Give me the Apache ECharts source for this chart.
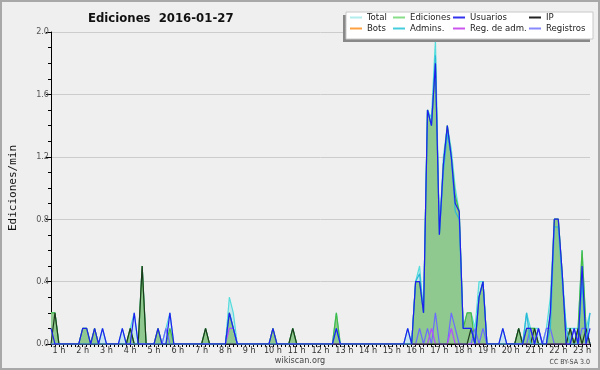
<!DOCTYPE html>
<html>
<head>
<meta charset="utf-8">
<script src="https://cdn.jsdelivr.net/npm/echarts@6/dist/echarts.min.js"></script>
<style>html,body{margin:0;padding:0;background:#efefef}#c{width:600px;height:370px}</style>
</head>
<body>
<div id="c"></div>
<script>
// 10-minute buckets starting at 0:40, ending at 23:20 (137 points)
const startMinutes = 40;
const stepMinutes = 10;
const pointCount = 137;
const categories = [];
for (let k = 0; k < pointCount; k++) {
  const m = startMinutes + k * stepMinutes;
  categories.push(Math.floor(m / 60) + ':' + String(m % 60).padStart(2, '0'));
}

const total = [
  0.2,0.2,0,0,0,0,0,0,0.1,0.1,
  0,0.1,0,0.1,0,0,0,0,0.1,0,
  0.1,0.2,0,0.5,0,0,0,0.1,0,0.1,
  0.2,0,0,0,0,0,0,0,0,0.1,
  0,0,0,0,0,0.3,0.2,0,0,0,
  0,0,0,0,0,0,0.1,0,0,0,
  0,0.1,0,0,0,0,0,0,0,0,
  0,0,0.2,0,0,0,0,0,0,0,
  0,0,0,0,0,0,0,0,0,0,
  0.1,0,0.4,0.5,0.2,1.5,1.45,1.95,0.7,1.2,
  1.4,1.25,1.0,0.85,0.1,0.2,0.2,0.1,0.4,0.4,
  0,0,0,0,0.1,0,0,0,0.1,0,
  0.2,0.1,0.1,0.1,0,0.1,0.3,0.8,0.8,0.45,
  0.1,0.1,0.1,0.1,0.6,0.1,0.2
];
const edits = [
  0.2,0.2,0,0,0,0,0,0,0.1,0.1,
  0,0.1,0,0,0,0,0,0,0,0,
  0.1,0,0,0.5,0,0,0,0.1,0,0,
  0.1,0,0,0,0,0,0,0,0,0.1,
  0,0,0,0,0,0.2,0.1,0,0,0,
  0,0,0,0,0,0,0.1,0,0,0,
  0,0.1,0,0,0,0,0,0,0,0,
  0,0,0.2,0,0,0,0,0,0,0,
  0,0,0,0,0,0,0,0,0,0,
  0,0,0.4,0.4,0.2,1.5,1.4,1.8,0.7,1.15,
  1.4,1.2,0.95,0.85,0.1,0.2,0.2,0,0.3,0.4,
  0,0,0,0,0,0,0,0,0.1,0,
  0.1,0.1,0.1,0,0,0,0.2,0.8,0.8,0.45,
  0,0.1,0,0.1,0.6,0.1,0
];
const users = [
  0.1,0,0,0,0,0,0,0,0.1,0.1,
  0,0.1,0,0.1,0,0,0,0,0.1,0,
  0,0.2,0,0,0,0,0,0.1,0,0,
  0.2,0,0,0,0,0,0,0,0,0,
  0,0,0,0,0,0.2,0.1,0,0,0,
  0,0,0,0,0,0,0.1,0,0,0,
  0,0,0,0,0,0,0,0,0,0,
  0,0,0.1,0,0,0,0,0,0,0,
  0,0,0,0,0,0,0,0,0,0,
  0.1,0,0.4,0.4,0.2,1.5,1.4,1.8,0.7,1.15,
  1.4,1.2,0.9,0.85,0.1,0.1,0.1,0,0.3,0.4,
  0,0,0,0,0.1,0,0,0,0,0,
  0.1,0.1,0,0.1,0,0,0.2,0.8,0.8,0.45,
  0,0,0.1,0,0.5,0,0.1
];
const admins = [
  0,0,0,0,0,0,0,0,0,0,
  0,0,0,0,0,0,0,0,0,0,
  0,0,0,0,0,0,0,0,0,0,
  0,0,0,0,0,0,0,0,0,0,
  0,0,0,0,0,0.2,0.1,0,0,0,
  0,0,0,0,0,0,0,0,0,0,
  0,0,0,0,0,0,0,0,0,0,
  0,0,0.1,0,0,0,0,0,0,0,
  0,0,0,0,0,0,0,0,0,0,
  0,0,0.4,0.45,0.2,1.5,1.4,1.85,0.7,1.1,
  1.35,1.2,0.85,0.8,0.1,0.1,0.1,0,0.3,0.4,
  0,0,0,0,0,0,0,0,0,0,
  0.2,0,0,0,0,0,0.1,0.75,0.75,0.4,
  0.1,0,0,0,0.4,0,0.2
];
const ip = [
  0,0.2,0,0,0,0,0,0,0,0,
  0,0,0,0,0,0,0,0,0,0,
  0.1,0,0,0.5,0,0,0,0,0,0,
  0,0,0,0,0,0,0,0,0,0.1,
  0,0,0,0,0,0,0,0,0,0,
  0,0,0,0,0,0,0,0,0,0,
  0,0.1,0,0,0,0,0,0,0,0,
  0,0,0,0,0,0,0,0,0,0,
  0,0,0,0,0,0,0,0,0,0,
  0,0,0,0,0,0,0,0,0,0,
  0,0,0,0,0,0,0.1,0,0,0,
  0,0,0,0,0,0,0,0,0.1,0,
  0,0,0.1,0,0,0,0,0,0,0,
  0,0.1,0,0.1,0,0.1,0
];
const logs = [
  0,0,0,0,0,0,0,0,0,0,
  0,0,0,0,0,0,0,0,0,0,
  0,0,0,0,0,0,0,0,0,0.1,
  0,0,0,0,0,0,0,0,0,0,
  0,0,0,0,0,0,0,0,0,0,
  0,0,0,0,0,0,0,0,0,0,
  0,0,0,0,0,0,0,0,0,0,
  0,0,0,0,0,0,0,0,0,0,
  0,0,0,0,0,0,0,0,0,0,
  0,0,0,0.1,0,0.1,0,0.2,0,0,
  0,0.2,0.1,0,0,0,0,0.1,0,0.1,
  0,0,0,0,0,0,0,0,0,0,
  0,0.1,0,0.1,0,0.1,0.1,0,0,0,
  0,0,0.1,0,0.1,0.1,0
];
const adminLogs = [
  0,0,0,0,0,0,0,0,0,0,
  0,0,0,0,0,0,0,0,0,0,
  0,0,0,0,0,0,0,0,0,0,
  0,0,0,0,0,0,0,0,0,0,
  0,0,0,0,0,0.1,0.1,0,0,0,
  0,0,0,0,0,0,0,0,0,0,
  0,0,0,0,0,0,0,0,0,0,
  0,0,0,0,0,0,0,0,0,0,
  0,0,0,0,0,0,0,0,0,0,
  0,0,0,0,0,0,0.1,0,0,0,
  0,0.1,0,0,0,0,0,0,0,0,
  0,0,0,0,0,0,0,0,0,0,
  0,0,0,0,0,0,0,0,0,0,
  0,0,0,0,0,0,0
];
const bots = [];

const chart = echarts.init(document.getElementById('c'), null, {renderer: 'canvas'});
const font = 'DejaVu Sans Condensed';
function line(name, data, color, extra) {
  return Object.assign({
    name: name, type: 'line', data: data, symbol: 'none', silent: true,
    lineStyle: {color: color, width: 1.2}, itemStyle: {color: color}
  }, extra || {});
}
const legendBase = {
  orient: 'vertical', top: 12, itemWidth: 12, itemHeight: 2, itemGap: 0, padding: 0,
  icon: 'rect', selectedMode: false, z: 20,
  lineStyle: {width: 0},
  textStyle: {fontFamily: font, fontSize: 9.5, color: '#222', lineHeight: 11}
};
function legendCol(left, items) {
  return Object.assign({}, legendBase, {left: left, data: items.map(function (it) {
    return {name: it[0], itemStyle: {color: it[1]}};
  })});
}

chart.setOption({
  animation: false,
  backgroundColor: '#efefef',
  title: {
    text: 'Ediciones  2016-01-27', left: 83, top: 7,
    textStyle: {fontFamily: font, fontWeight: 'bold', fontSize: 13, color: '#111'}
  },
  legend: [
    legendCol(350, [['Total', '#b3ecec'], ['Bots', '#ffa040']]),
    legendCol(393, [['Ediciones', '#88dd88'], ['Admins.', '#44ccdd']]),
    legendCol(453, [['Usuarios', '#3333ee'], ['Reg. de adm.', '#cc55ee']]),
    legendCol(529, [['IP', '#222222'], ['Registros', '#8888ff']])
  ],
  grid: {left: 45, right: 10, top: 32, bottom: 26},
  xAxis: {
    type: 'category', data: categories, boundaryGap: false,
    axisLine: {lineStyle: {color: '#000', width: 1}},
    axisTick: {interval: 0, length: 3, lineStyle: {color: '#000'}},
    axisLabel: {
      interval: function (idx, val) { return val.slice(-3) === ':00'; },
      formatter: function (v) { return parseInt(v, 10) + ' h'; },
      fontFamily: font, fontSize: 9, color: '#333', margin: 2
    },
    splitLine: {show: false}
  },
  yAxis: {
    type: 'value', min: 0, max: 2, interval: 0.4,
    name: 'Ediciones/min', nameLocation: 'middle', nameGap: 32,
    nameTextStyle: {fontFamily: 'DejaVu Sans Mono', fontSize: 11, color: '#111'},
    axisLine: {show: true, lineStyle: {color: '#000'}},
    axisTick: {show: true, length: 5, lineStyle: {color: '#000'}},
    minorTick: {show: true, splitNumber: 4, length: 3, lineStyle: {color: '#000'}},
    axisLabel: {formatter: function (v) { return v.toFixed(1); }, fontFamily: font, fontSize: 9, color: '#555', margin: 2},
    splitLine: {lineStyle: {color: '#cccccc'}}
  },
  series: [
    line('Total', total, '#55dddd', {areaStyle: {color: '#c8e6ee', opacity: 1}, z: 1, itemStyle: {color: '#b3ecec'}}),
    line('Ediciones', edits, '#44bb44', {areaStyle: {color: '#8fc98f', opacity: 1}, z: 2}),
    line('Bots', bots, '#ffa040', {z: 3}),
    line('Registros', logs, '#6b6bff', {z: 3}),
    line('Reg. de adm.', adminLogs, '#b44cff', {z: 3}),
    line('IP', ip, '#1e3a1e', {z: 3}),
    line('Admins.', admins, '#2ab8d8', {z: 3}),
    line('Usuarios', users, '#2020ee', {z: 3})
  ],
  graphic: [
    {type: 'rect', z: 15, shape: {x: 343, y: 15, width: 247, height: 27}, style: {fill: '#888'}},
    {type: 'rect', z: 16, shape: {x: 346, y: 12, width: 247, height: 27}, style: {fill: '#fff', stroke: '#c8c8c8', lineWidth: 1}},
    {type: 'text', z: 16, x: 300, y: 361, style: {text: 'wikiscan.org', fontFamily: font, fontSize: 9, fill: '#444', align: 'center', verticalAlign: 'middle'}},
    {type: 'text', z: 16, x: 590, y: 362, style: {text: 'CC BY-SA 3.0', fontFamily: font, fontSize: 7, fill: '#444', align: 'right', verticalAlign: 'middle'}},
    {type: 'rect', z: 30, shape: {x: 1, y: 1, width: 598, height: 368}, style: {fill: 'none', stroke: '#a8a8a8', lineWidth: 2}}
  ]
});
</script>
</body>
</html>
